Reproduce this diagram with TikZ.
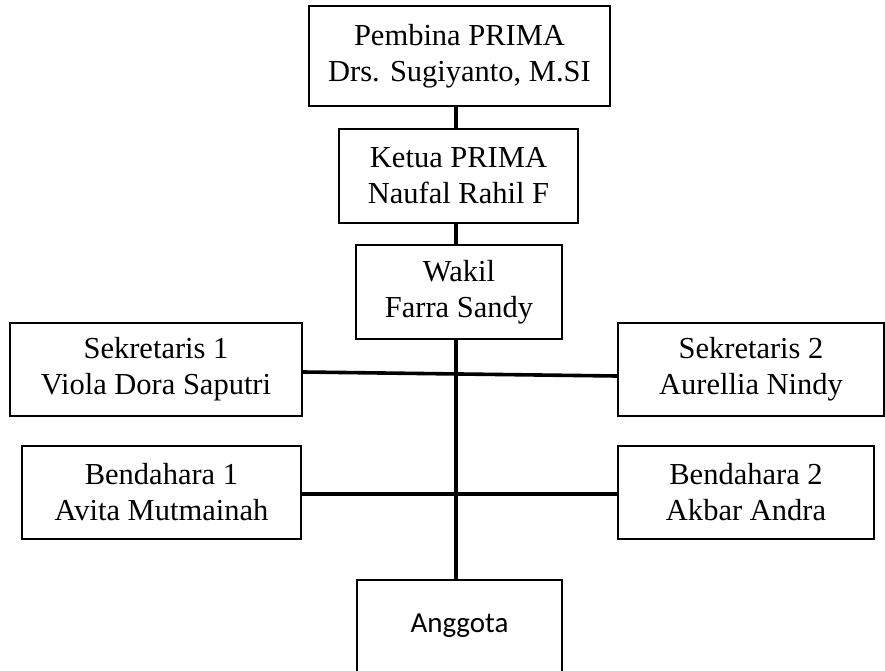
\documentclass[tikz,border=0pt]{standalone}
\usepackage{fontspec}
\setmainfont{Liberation Serif}
\newfontfamily\anggotafont{Carlito}
\begin{document}
\begin{tikzpicture}[x=1pt,y=-1pt,
  box/.style={draw=black,line width=2.4pt,fill=white,rectangle,align=center,
    font=\fontsize{30.5}{36}\selectfont,inner sep=0pt},
  conn/.style={draw=black,line width=3.6pt}]
\clip (0,0) rectangle (885,671);
\fill[white] (0,0) rectangle (885,671);
\node[box,minimum width=301pt,minimum height=100pt] (pem) at (459.5,56) {Pembina PRIMA\\Drs. Sugiyanto, M.SI};
\node[box,minimum width=239pt,minimum height=94pt] (ket) at (458.5,176) {Ketua PRIMA\\Naufal Rahil F};
\node[box,minimum width=206pt,minimum height=94pt] (wak) at (459,292) {Wakil\\Farra Sandy};
\node[box,minimum width=292pt,minimum height=93pt] (sek1) at (156,369.5) {Sekretaris 1\\Viola Dora Saputri};
\node[box,minimum width=266pt,minimum height=93pt] (sek2) at (751,369.5) {Sekretaris 2\\Aurellia Nindy};
\node[box,minimum width=279pt,minimum height=93pt] (ben1) at (161.5,492.5) {Bendahara 1\\Avita Mutmainah};
\node[box,minimum width=256pt,minimum height=93pt] (ben2) at (746,492.5) {Bendahara 2\\Akbar Andra};
\node[box,minimum width=205pt,minimum height=120pt] (ang) at (459.5,640) {};
\node[font=\anggotafont\fontsize{29}{34}\selectfont] (angt) at (459.5,626) {Anggota};
\draw[conn] (pem.south -| 456,0) -- (ket.north -| 456,0);
\draw[conn] (ket.south -| 456,0) -- (wak.north -| 456,0);
\draw[conn] (wak.south -| 456,0) -- (ang.north -| 456,0);
\draw[conn] ([yshift=-2.5pt]sek1.east) -- ([yshift=-6.5pt]sek2.west);
\draw[conn] ([yshift=-1.5pt]ben1.east) -- ([yshift=-1.5pt]ben2.west);
\end{tikzpicture}
\end{document}
